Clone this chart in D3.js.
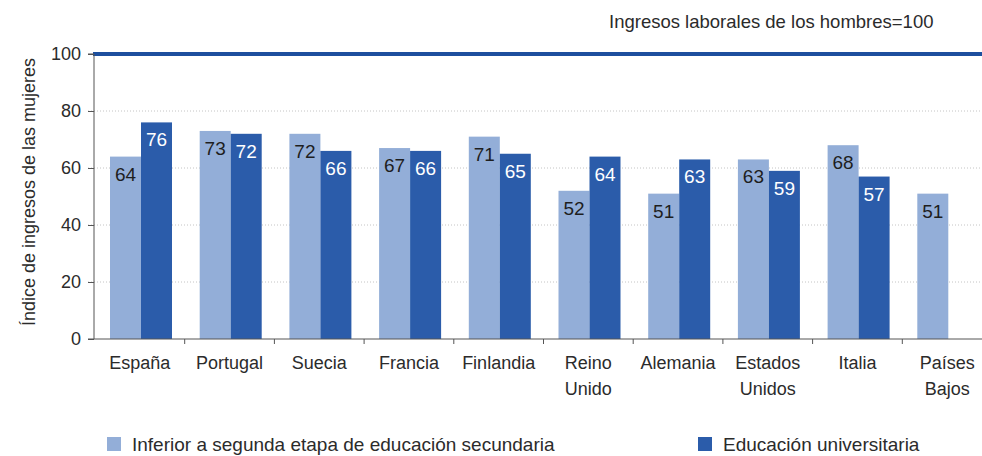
<!DOCTYPE html>
<html>
<head>
<meta charset="utf-8">
<script src="https://cdn.jsdelivr.net/npm/d3@7"></script>
<style>
  body { margin: 0; background: #fff; }
  svg { display: block; font-family: "Liberation Sans", Arial, sans-serif; }
  text { fill: #2b2b2b; }
</style>
</head>
<body>
<div id="chart"></div>
<script>
// data
var countries = [["España"], ["Portugal"], ["Suecia"], ["Francia"], ["Finlandia"],
  ["Reino", "Unido"], ["Alemania"], ["Estados", "Unidos"], ["Italia"], ["Países", "Bajos"]];
var lowerSecondary = [64, 73, 72, 67, 71, 52, 51, 63, 68, 51];
var university = [76, 72, 66, 66, 65, 64, 63, 59, 57, null];
var yTicks = [0, 20, 40, 60, 80, 100];
var seriesNames = ["Inferior a segunda etapa de educación secundaria", "Educación universitaria"];

var svgWidth = 982;
var svgHeight = 456;
var lightBlue = "#93aed8";
var darkBlue = "#2b5caa";

var svg = d3.select("#chart")
  .append("svg")
  .attr("width", svgWidth)
  .attr("height", svgHeight);

var x = d3.scaleBand()
  .domain(d3.range(countries.length))
  .range([95, 992]);

var y = d3.scaleLinear()
  .domain([0, 100])
  .range([339, 54]);

var sub = d3.scaleBand()
  .domain([0, 1])
  .range([15, 77]);

// dotted gridlines
svg.append("g")
  .selectAll("line")
  .data(yTicks.filter(d => d > 0 && d < 100))
  .enter()
  .append("line")
  .attr("x1", 88)
  .attr("x2", svgWidth)
  .attr("y1", d => y(d))
  .attr("y2", d => y(d))
  .attr("stroke", "#c4c4c4")
  .attr("stroke-width", 1)
  .attr("stroke-dasharray", "1,2");

// bars
var rows = countries.map((c, i) => ({ i: i, vals: [lowerSecondary[i], university[i]] }));

var groups = svg.append("g")
  .selectAll("g")
  .data(rows)
  .enter()
  .append("g")
  .attr("transform", d => `translate(${x(d.i)},0)`);

var cells = groups.selectAll("g")
  .data(d => d.vals.map((v, k) => ({ v: v, k: k })).filter(e => e.v != null))
  .enter()
  .append("g");

cells.append("rect")
  .attr("x", d => sub(d.k))
  .attr("width", sub.bandwidth())
  .attr("y", d => y(d.v))
  .attr("height", d => y(0) - y(d.v))
  .attr("fill", d => d.k === 0 ? lightBlue : darkBlue);

cells.append("text")
  .attr("x", d => sub(d.k) + sub.bandwidth() / 2)
  .attr("y", d => y(d.v) + 24)
  .attr("text-anchor", "middle")
  .style("font-size", "19px")
  .style("fill", d => d.k === 0 ? "#1e1e1e" : "#ffffff")
  .text(d => d.v);

// reference line at 100
svg.append("line")
  .attr("x1", 93)
  .attr("x2", svgWidth)
  .attr("y1", y(100))
  .attr("y2", y(100))
  .attr("stroke", "#1d4f9e")
  .attr("stroke-width", 4);

// y axis
var leftAxis = d3.axisLeft(y)
  .tickValues(yTicks)
  .tickSize(6)
  .tickPadding(7);

var yAxis = svg.append("g")
  .attr("transform", "translate(94,0)")
  .call(leftAxis);
yAxis.select(".domain").attr("stroke", "#555").attr("d", `M-6,${y(100)}H0V${y(0)}`);
yAxis.selectAll(".tick line").attr("stroke", "#555");
yAxis.selectAll(".tick text").style("font-size", "18px").style("fill", "#2b2b2b");

// x axis with ticks between categories
var xAxis = svg.append("g");
xAxis.append("line")
  .attr("x1", 88)
  .attr("x2", svgWidth)
  .attr("y1", y(0))
  .attr("y2", y(0))
  .attr("stroke", "#555");
xAxis.selectAll("line.tk")
  .data(d3.range(1, countries.length))
  .enter()
  .append("line")
  .attr("class", "tk")
  .attr("x1", d => x(d))
  .attr("x2", d => x(d))
  .attr("y1", y(0))
  .attr("y2", y(0) + 5)
  .attr("stroke", "#555");

var catLabels = xAxis.selectAll("text")
  .data(countries)
  .enter()
  .append("text")
  .attr("text-anchor", "middle")
  .attr("x", (d, i) => x(i) + x.bandwidth() / 2)
  .attr("y", 369)
  .style("font-size", "18px");
catLabels.selectAll("tspan")
  .data(d => d)
  .enter()
  .append("tspan")
  .attr("x", function() { return d3.select(this.parentNode).attr("x"); })
  .attr("dy", (d, i) => i === 0 ? 0 : 26)
  .text(d => d);

// y axis title
svg.append("text")
  .attr("transform", "translate(35,192) rotate(-90)")
  .attr("text-anchor", "middle")
  .style("font-size", "18px")
  .text("Índice de ingresos de las mujeres");

// note top right
svg.append("text")
  .attr("x", 609)
  .attr("y", 28)
  .style("font-size", "18.5px")
  .text("Ingresos laborales de los hombres=100");

// legend
var legendX = [107, 698];
var legend = svg.append("g")
  .selectAll("g")
  .data(seriesNames)
  .enter()
  .append("g")
  .attr("transform", (d, i) => `translate(${legendX[i]},437)`);
legend.append("rect")
  .attr("width", 14)
  .attr("height", 14)
  .attr("fill", (d, i) => i === 0 ? lightBlue : darkBlue);
legend.append("text")
  .attr("x", 25)
  .attr("y", 14)
  .style("font-size", "19px")
  .text(d => d);
</script>
</body>
</html>
